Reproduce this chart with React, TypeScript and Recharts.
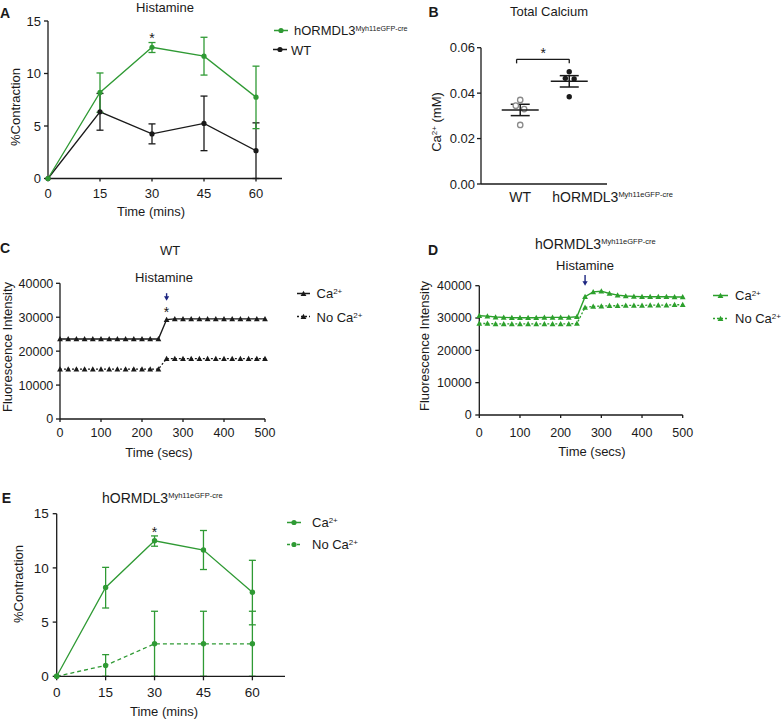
import React from "react";
import {
  ComposedChart,
  ScatterChart,
  Line,
  Scatter,
  XAxis,
  YAxis,
  ErrorBar,
  ReferenceDot,
  ReferenceLine,
} from "recharts";

const FONT = "'Liberation Sans', Arial, Helvetica, sans-serif";
const INK = "#1a1a1a";
const GREEN = "#2f9a34";
const DGREEN = "#2ca02c";
const NAVY = "#1c2580";
const GENO_SUP = "Myh11eGFP-cre";

// A + E: % contraction after histamine
const timeMins = [0, 15, 30, 45, 60];
const hormContraction = [0, 8.2, 12.5, 11.65, 7.75];
const hormErrLow = [0, 1.9, 0.5, 1.8, 3.0];
const hormErrHigh = [0, 1.85, 0.45, 1.8, 2.95];
const wtContraction = [0, 6.35, 4.25, 5.25, 2.65];
const wtErrLow = [0, 1.75, 0.95, 2.6, 2.65];
const wtErrHigh = [0, 1.75, 0.95, 2.6, 2.65];
const noCaContraction = [0, 1.0, 3.0, 3.0, 3.0];
const noCaErr = [0, 1.0, 3.0, 3.0, 3.0];
const contractionTicks = [0, 5, 10, 15];

// B: total calcium
const groups = ["WT", "hORMDL3"];
const wtCalcium = [0.037, 0.0345, 0.033, 0.026];
const wtJitter = [0, -0.09, 0.08, 0];
const hormCalcium = [0.0494, 0.0465, 0.0462, 0.0384];
const hormJitter = [0, -0.08, 0.1, 0];
const calciumMean = [0.0326, 0.0452];
const calciumSem = [0.0025, 0.0025];
const calciumTicks = [0, 0.02, 0.04, 0.06];

// C + D: fluorescence traces
const timeSecs = [0, 20, 40, 60, 80, 100, 120, 140, 160, 180, 200, 220, 240, 260, 280, 300, 320, 340, 360, 380, 400, 420, 440, 460, 480, 500];
const wtCa = [23600, 23600, 23600, 23600, 23600, 23600, 23600, 23600, 23600, 23600, 23600, 23600, 23600, 29300, 29500, 29500, 29500, 29500, 29500, 29500, 29500, 29500, 29500, 29500, 29500, 29500];
const wtNoCa = [14700, 14700, 14700, 14700, 14700, 14700, 14700, 14700, 14700, 14700, 14700, 14700, 14700, 17800, 17800, 17800, 17800, 17800, 17800, 17800, 17800, 17800, 17800, 17800, 17800, 17800];
const hormCa = [30700, 30600, 30300, 30200, 30100, 30100, 30100, 30100, 30200, 30200, 30200, 30200, 30400, 36600, 38100, 38300, 37600, 37100, 36800, 36700, 36600, 36600, 36600, 36600, 36500, 36500];
const hormNoCa = [28300, 28300, 28200, 28200, 28200, 28200, 28200, 28200, 28200, 28200, 28200, 28200, 28300, 33300, 33600, 33700, 33800, 33800, 33900, 33900, 33900, 34000, 34000, 34000, 34100, 34100];
const secTicks = [0, 100, 200, 300, 400, 500];
const fluoTicks = [0, 10000, 20000, 30000, 40000];

const errPair = (lo: number, hi: number) => (lo || hi ? [lo, hi] : null);

const contractionRows = timeMins.map((t, i) => ({
  t,
  horm: hormContraction[i],
  hormErr: errPair(hormErrLow[i], hormErrHigh[i]),
  wt: wtContraction[i],
  wtErr: errPair(wtErrLow[i], wtErrHigh[i]),
  noCa: noCaContraction[i],
  noCaErr: errPair(noCaErr[i], noCaErr[i]),
}));

const wtPoints = wtCalcium.map((y, i) => ({ x: 0 + wtJitter[i], y }));
const hormPoints = hormCalcium.map((y, i) => ({ x: 1 + hormJitter[i], y }));
const meanRows = groups.map((g, i) => ({ x: i, y: calciumMean[i], sem: calciumSem[i] }));

const wtTraceRows = timeSecs.map((t, i) => ({ t, ca: wtCa[i], noCa: wtNoCa[i] }));
const hormTraceRows = timeSecs.map((t, i) => ({ t, ca: hormCa[i], noCa: hormNoCa[i] }));

const tickStyle = (size: number) => ({ fill: INK, fontSize: size, fontFamily: FONT });

const triangle = (color: string) => (props: any) => {
  const { cx, cy, index } = props;
  if (cx == null || cy == null) return <g key={`t${index}`} />;
  const s = 2.9;
  return (
    <path
      key={`t${index}`}
      d={`M${cx},${cy - s}L${cx + s},${cy + s * 0.8}L${cx - s},${cy + s * 0.8}Z`}
      fill={color}
    />
  );
};

const star = (props: any) => (
  <text x={props.cx} y={props.cy} textAnchor="middle" fontSize={14} fontFamily={FONT} fill={INK}>
    *
  </text>
);

const arrow = (len: number) => (props: any) => {
  const { cx, cy } = props;
  return (
    <g>
      <line x1={cx} y1={cy - len} x2={cx} y2={cy - 3} stroke={NAVY} strokeWidth={1.4} />
      <path d={`M${cx - 2.6},${cy - 4.5}L${cx + 2.6},${cy - 4.5}L${cx},${cy}Z`} fill={NAVY} />
    </g>
  );
};

const openCircle = (p: any) => <circle cx={p.cx} cy={p.cy} r={2.7} fill="#fff" stroke="#8a8a8a" strokeWidth={1.3} />;
const filledCircle = (p: any) => <circle cx={p.cx} cy={p.cy} r={2.7} fill={INK} />;
const meanBar = (p: any) => (
  <line x1={p.cx - 18.5} x2={p.cx + 18.5} y1={p.cy} y2={p.cy} stroke={INK} strokeWidth={1.5} />
);

const GroupTick = (props: any) => {
  const { x, y, payload } = props;
  if (payload.value === 0) {
    return (
      <text x={x} y={y + 13} dy="0.36em" textAnchor="middle" fontSize={14} fill={INK} fontFamily={FONT}>
        {groups[0]}
      </text>
    );
  }
  return (
    <text x={x - 17} y={y + 13} dy="0.36em" textAnchor="start" fontSize={14} fill={INK} fontFamily={FONT}>
      <tspan>{groups[1]}</tspan>
      <tspan fontSize={7.5} dy={-5}>{GENO_SUP}</tspan>
    </text>
  );
};

function Sup({ children, size = 8, rise = 4 }: any) {
  return <span style={{ fontSize: size, position: "relative", top: -rise }}>{children}</span>;
}

function Note({ x, y, size = 13, bold = false, anchor = "middle", rotate = false, color = INK, children }: any) {
  const tx = anchor === "middle" ? "-50%" : anchor === "end" ? "-100%" : "0";
  return (
    <div
      style={{
        position: "absolute",
        left: x,
        top: y,
        fontSize: size,
        fontWeight: bold ? 700 : 400,
        lineHeight: 1,
        whiteSpace: "nowrap",
        color,
        transform: `translate(${tx}, -50%)${rotate ? " rotate(-90deg)" : ""}`,
      }}
    >
      {children}
    </div>
  );
}

function LegendKey({ x, y, color, dash, marker, lineW = 14, gap = 6, children }: any) {
  const mid = lineW / 2;
  return (
    <div
      style={{
        position: "absolute",
        left: x,
        top: y,
        transform: "translateY(-50%)",
        display: "flex",
        alignItems: "center",
        fontSize: 13,
        lineHeight: 1,
        whiteSpace: "nowrap",
        color: INK,
      }}
    >
      <svg width={lineW} height={8} style={{ display: "block" }}>
        <line x1={0} x2={lineW} y1={4} y2={4} stroke={color} strokeWidth={1.4} strokeDasharray={dash} />
        {marker === "dot" ? (
          <circle cx={mid} cy={4} r={2.6} fill={color} />
        ) : (
          <path d={`M${mid},1.2L${mid + 2.9},6.4L${mid - 2.9},6.4Z`} fill={color} />
        )}
      </svg>
      <span style={{ marginLeft: gap }}>{children}</span>
    </div>
  );
}

function Box({ left, top, children }: any) {
  return <div style={{ position: "absolute", left, top }}>{children}</div>;
}

export default function App() {
  return (
    <div
      style={{
        position: "absolute",
        left: 0,
        top: 0,
        width: 781,
        height: 719,
        background: "#fff",
        fontFamily: FONT,
        color: INK,
        overflow: "hidden",
      }}
    >
      {/* A: histamine contraction */}
      <Box left={0} top={0}>
        <ComposedChart width={390} height={215} data={contractionRows} margin={{ top: 21, right: 108, bottom: 0, left: 0 }}>
          <XAxis dataKey="t" type="number" domain={[0, 67.5]} ticks={timeMins} interval={0} height={36.5}
            tickSize={3} tickMargin={7} stroke={INK} strokeWidth={1.3} tick={tickStyle(13)} />
          <YAxis type="number" domain={[0, 15]} ticks={contractionTicks} interval={0} width={48}
            tickSize={4} tickMargin={3} stroke={INK} strokeWidth={1.3} tick={tickStyle(13)} />
          <Line dataKey="wt" type="linear" stroke={INK} strokeWidth={1.3} isAnimationActive={false}
            dot={{ r: 2.6, fill: INK, stroke: INK, strokeWidth: 0 }}>
            <ErrorBar dataKey="wtErr" direction="y" width={3.5} stroke={INK} strokeWidth={1.3} />
          </Line>
          <Line dataKey="horm" type="linear" stroke={GREEN} strokeWidth={1.3} isAnimationActive={false}
            dot={{ r: 2.6, fill: GREEN, stroke: GREEN, strokeWidth: 0 }}>
            <ErrorBar dataKey="hormErr" direction="y" width={3.5} stroke={GREEN} strokeWidth={1.3} />
          </Line>
          <ReferenceDot x={30} y={12.86} r={0} shape={star} ifOverflow="visible" />
        </ComposedChart>
      </Box>
      <Note x={5} y={13} size={14} bold>A</Note>
      <Note x={165} y={6.5}>Histamine</Note>
      <Note x={15} y={107} rotate>%Contraction</Note>
      <Note x={151} y={211}>Time (mins)</Note>
      <LegendKey x={274} y={30} color={GREEN} marker="dot" gap={6}>
        hORMDL3<Sup size={7.2}>{GENO_SUP}</Sup>
      </LegendKey>
      <LegendKey x={273} y={49.5} color={INK} marker="dot" gap={4}>WT</LegendKey>

      {/* B: total calcium */}
      <Box left={390} top={0}>
        <ScatterChart width={391} height={215} margin={{ top: 47.7, right: 174, bottom: 0, left: 0 }}>
          <XAxis type="number" dataKey="x" domain={[-0.8, 1.77]} ticks={[0, 1]} interval={0} height={31}
            tickLine={false} tickSize={0} tickMargin={0} stroke={INK} strokeWidth={1.3} tick={<GroupTick />} />
          <YAxis type="number" dataKey="y" domain={[0, 0.06]} ticks={calciumTicks} interval={0} width={91}
            tickSize={4} tickMargin={2} stroke={INK} strokeWidth={1.3} tick={tickStyle(13)}
            tickFormatter={(v: number) => v.toFixed(2)} />
          <Scatter data={wtPoints} shape={openCircle} isAnimationActive={false} />
          <Scatter data={hormPoints} shape={filledCircle} isAnimationActive={false} />
          <Scatter data={meanRows} shape={meanBar} isAnimationActive={false}>
            <ErrorBar dataKey="sem" direction="y" width={9.5} stroke={INK} strokeWidth={1.5} />
          </Scatter>
          <ReferenceLine segment={[{ x: -0.074, y: 0.0549 }, { x: 1, y: 0.0549 }]} stroke={INK} strokeWidth={1.3} />
          <ReferenceLine segment={[{ x: -0.074, y: 0.0549 }, { x: -0.074, y: 0.0531 }]} stroke={INK} strokeWidth={1.3} />
          <ReferenceLine segment={[{ x: 1, y: 0.0549 }, { x: 1, y: 0.0531 }]} stroke={INK} strokeWidth={1.3} />
          <ReferenceDot x={0.47} y={0.0555} r={0} shape={star} ifOverflow="visible" />
        </ScatterChart>
      </Box>
      <Note x={433.5} y={12} size={14} bold>B</Note>
      <Note x={549} y={10.5}>Total Calcium</Note>
      <Note x={436} y={122} rotate>
        Ca<Sup size={8}>2+</Sup> (mM)
      </Note>

      {/* C: WT fluorescence */}
      <Box left={0} top={225}>
        <ComposedChart width={390} height={245} data={wtTraceRows} margin={{ top: 58.3, right: 125, bottom: 0, left: 0 }}>
          <XAxis dataKey="t" type="number" domain={[0, 500]} ticks={secTicks} interval={0} height={51}
            tickSize={3} tickMargin={6} stroke={INK} strokeWidth={1.3} tick={tickStyle(12.5)} />
          <YAxis type="number" domain={[0, 40000]} ticks={fluoTicks} interval={0} width={60}
            tickSize={4} tickMargin={2.7} stroke={INK} strokeWidth={1.3} tick={tickStyle(12.5)} />
          <Line dataKey="noCa" type="linear" stroke={INK} strokeWidth={1.3} strokeDasharray="2 2"
            dot={triangle(INK)} isAnimationActive={false} />
          <Line dataKey="ca" type="linear" stroke={INK} strokeWidth={1.4} dot={triangle(INK)} isAnimationActive={false} />
          <ReferenceDot x={260} y={34870} r={0} shape={arrow(7.5)} ifOverflow="visible" />
          <ReferenceDot x={260} y={30155} r={0} shape={star} ifOverflow="visible" />
        </ComposedChart>
      </Box>
      <Note x={5} y={248} size={14} bold>C</Note>
      <Note x={170} y={250}>WT</Note>
      <Note x={164} y={277}>Histamine</Note>
      <Note x={6.6} y={347} rotate>Fluorescence Intensity</Note>
      <Note x={159} y={452}>Time (secs)</Note>
      <LegendKey x={297} y={293.3} color={INK} marker="tri" lineW={13} gap={6.5}>
        Ca<Sup>2+</Sup>
      </LegendKey>
      <LegendKey x={297} y={316.7} color={INK} marker="tri" dash="2 2" lineW={13} gap={6.5}>
        No Ca<Sup>2+</Sup>
      </LegendKey>

      {/* D: hORMDL3 fluorescence */}
      <Box left={390} top={225}>
        <ComposedChart width={391} height={245} data={hormTraceRows} margin={{ top: 60.7, right: 98.3, bottom: 0, left: 0 }}>
          <XAxis dataKey="t" type="number" domain={[0, 500]} ticks={secTicks} interval={0} height={55}
            tickSize={3} tickMargin={10} stroke={INK} strokeWidth={1.3} tick={tickStyle(12.5)} />
          <YAxis type="number" domain={[0, 40000]} ticks={fluoTicks} interval={0} width={89.3}
            tickSize={4} tickMargin={3.5} stroke={INK} strokeWidth={1.3} tick={tickStyle(12.5)} />
          <Line dataKey="noCa" type="linear" stroke={DGREEN} strokeWidth={1.3} strokeDasharray="2 2"
            dot={triangle(DGREEN)} isAnimationActive={false} />
          <Line dataKey="ca" type="linear" stroke={DGREEN} strokeWidth={1.4} dot={triangle(DGREEN)} isAnimationActive={false} />
          <ReferenceDot x={260} y={40000} r={0} shape={arrow(10.7)} ifOverflow="visible" />
        </ComposedChart>
      </Box>
      <Note x={433} y={250} size={14} bold>D</Note>
      <Note x={535} y={243.5} size={14} anchor="start">
        hORMDL3<Sup size={7.5} rise={4.5}>{GENO_SUP}</Sup>
      </Note>
      <Note x={585} y={265}>Histamine</Note>
      <Note x={424} y={346} rotate>Fluorescence Intensity</Note>
      <Note x={592} y={451}>Time (secs)</Note>
      <LegendKey x={713} y={295} color={DGREEN} marker="tri" lineW={15} gap={7}>
        Ca<Sup>2+</Sup>
      </LegendKey>
      <LegendKey x={713} y={318.3} color={DGREEN} marker="tri" dash="2 2" lineW={15} gap={7}>
        No Ca<Sup>2+</Sup>
      </LegendKey>

      {/* E: hORMDL3 contraction with / without calcium */}
      <Box left={0} top={480}>
        <ComposedChart width={390} height={239} data={contractionRows} margin={{ top: 33.7, right: 105, bottom: 0, left: 0 }}>
          <XAxis dataKey="t" type="number" domain={[0, 70]} ticks={timeMins} interval={0} height={42.7}
            tickSize={4} tickMargin={7} stroke={INK} strokeWidth={1.3} tick={tickStyle(13.5)} />
          <YAxis type="number" domain={[0, 15]} ticks={contractionTicks} interval={0} width={56.7}
            tickSize={4} tickMargin={4} stroke={INK} strokeWidth={1.3} tick={tickStyle(13.5)} />
          <Line dataKey="noCa" type="linear" stroke={GREEN} strokeWidth={1.3} strokeDasharray="4 3" isAnimationActive={false}
            dot={{ r: 2.7, fill: GREEN, stroke: GREEN, strokeWidth: 0 }}>
            <ErrorBar dataKey="noCaErr" direction="y" width={3.5} stroke={GREEN} strokeWidth={1.3} />
          </Line>
          <Line dataKey="horm" type="linear" stroke={GREEN} strokeWidth={1.3} isAnimationActive={false}
            dot={{ r: 2.7, fill: GREEN, stroke: GREEN, strokeWidth: 0 }}>
            <ErrorBar dataKey="hormErr" direction="y" width={3.5} stroke={GREEN} strokeWidth={1.3} />
          </Line>
          <ReferenceDot x={30} y={12.82} r={0} shape={star} ifOverflow="visible" />
        </ComposedChart>
      </Box>
      <Note x={6.5} y={498} size={14} bold>E</Note>
      <Note x={102} y={497.5} size={14} anchor="start">
        hORMDL3<Sup size={7.5} rise={4.5}>{GENO_SUP}</Sup>
      </Note>
      <Note x={18} y={584} rotate>%Contraction</Note>
      <Note x={164} y={711}>Time (mins)</Note>
      <LegendKey x={287} y={522.3} color={GREEN} marker="dot" gap={11}>
        Ca<Sup>2+</Sup>
      </LegendKey>
      <LegendKey x={287} y={544.3} color={GREEN} marker="dot" dash="3 2" gap={11}>
        No Ca<Sup>2+</Sup>
      </LegendKey>
    </div>
  );
}
